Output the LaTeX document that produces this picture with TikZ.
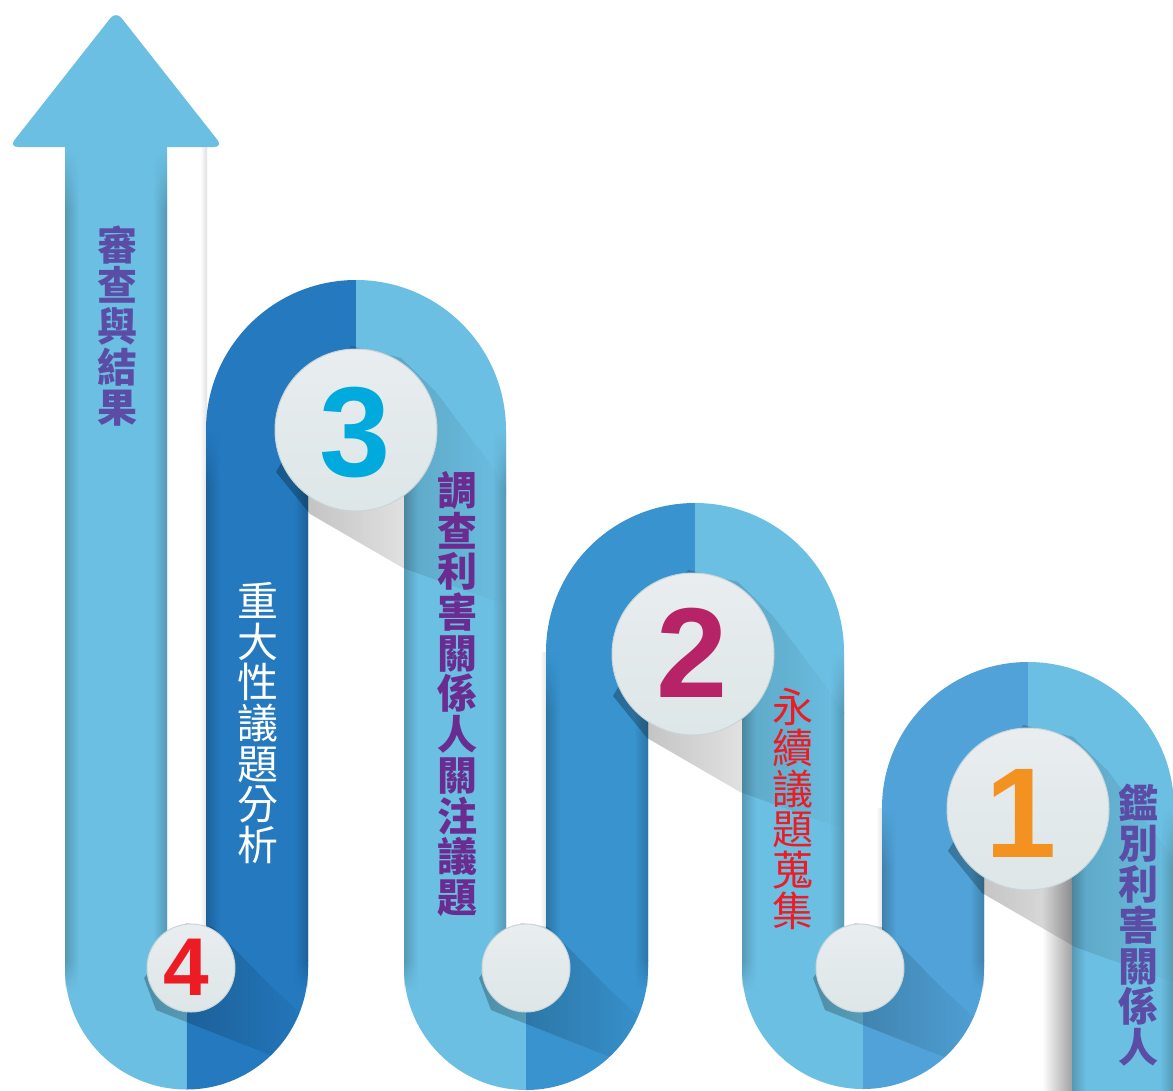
\documentclass[tikz,border=0pt]{standalone}
\usepackage{fontspec}
\newfontfamily\cjk{Noto Sans CJK TC}
\newfontfamily\numfont{Liberation Sans}
\usetikzlibrary{fadings}
\definecolor{lb}{HTML}{6BBFE2}
\definecolor{cB}{HTML}{2479BF}
\definecolor{cD}{HTML}{3893CF}
\definecolor{cF}{HTML}{50A2D8}
\definecolor{circtop}{HTML}{E9EDEF}
\definecolor{circbot}{HTML}{DDE6E8}
\definecolor{circrim}{HTML}{C9D5D9}
\definecolor{txtblue}{HTML}{5B4DA6}
\definecolor{txtpurple}{HTML}{6A2C90}
\definecolor{txtred}{HTML}{ED1C24}
\definecolor{num1}{HTML}{F39121}
\definecolor{num2}{HTML}{B62367}
\definecolor{num3}{HTML}{00AADC}
\definecolor{num4}{HTML}{ED1C24}
\tikzfading[name=shfade, left color=transparent!0, right color=transparent!100]
\tikzfading[name=fadein, top color=transparent!100, bottom color=transparent!0]
\tikzfading[name=fadeout, top color=transparent!0, bottom color=transparent!100]
\newcommand\bandedge[5]{%
  \shade[left color=#5!80!black, right color=#5, path fading=fadein] (#1,#3) rectangle (#1+14,#3+60);
  \shade[left color=#5!80!black, right color=#5] (#1,#3+60) rectangle (#1+14,#4-30);
  \shade[left color=#5!80!black, right color=#5, path fading=fadeout] (#1,#4-30) rectangle (#1+14,#4);
  \shade[left color=#5, right color=#5!80!black, path fading=fadein] (#2-14,#3) rectangle (#2,#3+60);
  \shade[left color=#5, right color=#5!80!black] (#2-14,#3+60) rectangle (#2,#4-30);
  \shade[left color=#5, right color=#5!80!black, path fading=fadeout] (#2-14,#4-30) rectangle (#2,#4);}
\newcommand\bigshadow[4]{%
  \begin{scope}
    \clip (#3,#2-200) rectangle (#4,#2+260);
    \fill[black, opacity=.27, path fading=shfade, shift={(#1,#2)}]
      (-5,-84) -- (45,-72) -- (80,-38) -- (150,55) -- (150,175)
      -- (47,138) -- (-46,84) -- (-80,42) -- cycle;
  \end{scope}}
\newcommand\smallshadow[4]{%
  \begin{scope}
    \clip (#3-#4,#2-70) -- (#3+#4,#2-70) -- (#3+#4,968)
      arc[start angle=0,end angle=180,radius=#4] -- cycle;
    \fill[black, opacity=.26, path fading=shfade, shift={(#1,#2)}]
      (-5,-45) -- (22,-41) -- (80,18) -- (125,60) -- (125,105)
      -- (-35,42) -- (-47,10) -- cycle;
  \end{scope}}
\begin{document}
\begin{tikzpicture}[x=1pt,y=-1pt,
  bigcirc/.style={circle, minimum size=162pt, inner sep=0pt, top color=circtop,
    bottom color=circbot, draw=circrim, line width=1pt},
  smallcirc/.style={circle, minimum size=88pt, inner sep=0pt, top color=circtop,
    bottom color=circbot, draw=circrim, line width=1pt},
  bignum/.style={inner sep=0pt, font=\numfont\bfseries\fontsize{128}{128}\selectfont},
  vtext/.style={inner sep=0pt, align=center, font=\cjk\fontsize{41}{40.7}\selectfont},
  vtextb/.style={inner sep=0pt, align=center, font=\cjk\bfseries\fontsize{40}{40.7}\selectfont},
  gapshade/.style={left color=white, right color=black!12}]
\useasboundingbox (0,0) rectangle (1173,1090);
\clip (0,0) rectangle (1173,1090);
\fill[white] (0,0) rectangle (1173,1090);

% gap shadings (band edges cast on white)
\shade[left color=white, right color=black!38] (1042,800) rectangle (1073,1090);
\shade[gapshade] (200,147) rectangle (207,968);
\shade[gapshade] (540,652) rectangle (547,968);
\shade[gapshade] (876,808) rectangle (883,968);

% column A: arrow
\fill[lb, rounded corners=9pt] (9,147) -- (116,11) -- (223,147) -- cycle;
\fill[lb] (65,140) -- (167,140) -- (167,968)
  arc[start angle=180,end angle=90,radius=19.5] -- (186.5,1089.5)
  arc[start angle=90,end angle=180,radius=121.5] -- cycle;
% column B
\fill[cB] (356,280) arc[start angle=270,end angle=180,radius=150] -- (206,968)
  arc[start angle=0,end angle=90,radius=19.5] -- (186.5,1089.5)
  arc[start angle=90,end angle=0,radius=121.5] -- (308,430)
  arc[start angle=180,end angle=270,radius=48] -- cycle;
% column C
\fill[lb] (356,280) arc[start angle=270,end angle=360,radius=150] -- (506,968)
  arc[start angle=180,end angle=90,radius=20] -- (526,1090)
  arc[start angle=90,end angle=180,radius=122] -- (404,430)
  arc[start angle=360,end angle=270,radius=48] -- cycle;
% column D
\fill[cD] (695,503) arc[start angle=270,end angle=180,radius=149] -- (546,968)
  arc[start angle=0,end angle=90,radius=20] -- (526,1090)
  arc[start angle=90,end angle=0,radius=122] -- (648,652)
  arc[start angle=180,end angle=270,radius=47] -- cycle;
% column E
\fill[lb] (695,503) arc[start angle=270,end angle=360,radius=149] -- (844,968)
  arc[start angle=180,end angle=90,radius=19] -- (863,1089)
  arc[start angle=90,end angle=180,radius=121] -- (742,652)
  arc[start angle=360,end angle=270,radius=47] -- cycle;
% column F
\fill[cF] (1028,662) arc[start angle=270,end angle=180,radius=146] -- (882,968)
  arc[start angle=0,end angle=90,radius=19] -- (863,1089)
  arc[start angle=90,end angle=0,radius=121] -- (984,808)
  arc[start angle=180,end angle=270,radius=44] -- cycle;
% column G
\fill[lb] (1028,662) arc[start angle=270,end angle=360,radius=146] -- (1174,1100)
  -- (1072,1100) -- (1072,808) arc[start angle=360,end angle=270,radius=44] -- cycle;

% cylindrical edges of the straight parts
\bandedge{65}{167}{150}{990}{lb}
\bandedge{206}{308}{430}{990}{cB}
\bandedge{404}{506}{430}{990}{lb}
\bandedge{546}{648}{652}{990}{cD}
\bandedge{742}{844}{652}{990}{lb}
\bandedge{882}{984}{808}{990}{cF}
\bandedge{1072}{1174}{808}{1120}{lb}

% shadows of the circles
\bigshadow{356}{430}{206}{506}
\bigshadow{693}{654}{546}{844}
\bigshadow{1028}{809}{882}{1174}
\smallshadow{191}{968}{186.5}{121.5}
\smallshadow{526}{968}{526}{122}
\smallshadow{860}{968}{863}{121}

% circles
\node[bigcirc] (c3) at (356,430) {};
\node[bigcirc] (c2) at (693,654) {};
\node[bigcirc] (c1) at (1028,809) {};
\node[smallcirc] (c4) at (191,968) {};
\node[smallcirc] (cs1) at (526,968) {};
\node[smallcirc] (cs2) at (860,968) {};

% numbers
\node[bignum, text=num3] (n3) at (355,433) {3};
\node[bignum, text=num2] (n2) at (692,653) {2};
\node[bignum, text=num1] (n1) at (1021,813) {1};
\node[inner sep=0pt, font=\numfont\bfseries\fontsize{82}{82}\selectfont, text=num4] (n4) at (186,967) {4};

% vertical labels
\node[vtextb, text=txtblue] (t5) at (117,326) {審\\查\\與\\結\\果};
\node[vtext, text=white] (t4) at (258,723) {重\\大\\性\\議\\題\\分\\析};
\node[vtextb, text=txtpurple] (t3) at (457,694) {調\\查\\利\\害\\關\\係\\人\\關\\注\\議\\題};
\node[vtext, text=txtred] (t2) at (793,809) {永\\續\\議\\題\\蒐\\集};
\node[vtextb, text=txtblue] (t1) at (1138,925) {鑑\\別\\利\\害\\關\\係\\人};
\end{tikzpicture}
\end{document}
